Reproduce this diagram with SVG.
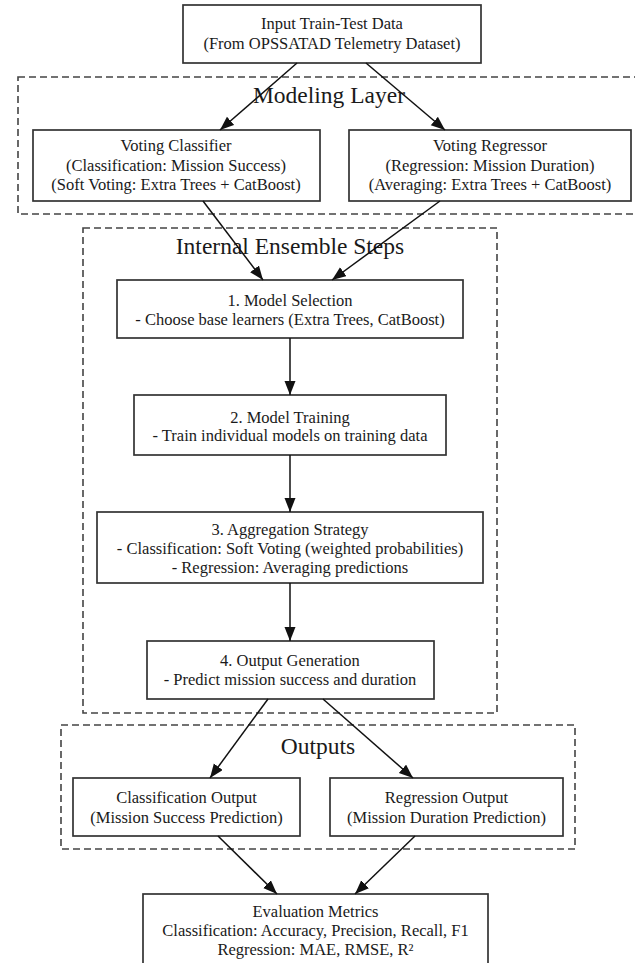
<svg xmlns="http://www.w3.org/2000/svg" width="635" height="963" viewBox="0 0 635 963">
<style>
.box{fill:#fff;stroke:#333;stroke-width:1.7}
.cl{fill:none;stroke:#444;stroke-width:1.6;stroke-dasharray:7,4}
.t{font-family:"Liberation Serif","Times New Roman",serif;font-size:16.5px;fill:#1a1a1a;text-anchor:middle}
.ct{font-family:"Liberation Serif","Times New Roman",serif;font-size:23.5px;fill:#1a1a1a;text-anchor:middle}
.e{stroke:#111;stroke-width:1.5;fill:none;marker-end:url(#ah)}
</style>
<defs>
<marker id="ah" markerUnits="userSpaceOnUse" markerWidth="15" markerHeight="12" refX="14" refY="5.5" orient="auto">
<path d="M0,0 L14,5.5 L0,11 Z" fill="#111"/>
</marker>
</defs>
<rect width="635" height="963" fill="#fff"/>
<g id="clusters">
<g id="modeling-layer"><rect class="cl" x="18" y="77" width="624" height="137"/><text class="ct" x="329" y="103">Modeling Layer</text></g>
<g id="internal-steps"><rect class="cl" x="83" y="228" width="414" height="485"/><text class="ct" x="290" y="254">Internal Ensemble Steps</text></g>
<g id="outputs"><rect class="cl" x="61" y="725" width="514" height="124"/><text class="ct" x="318" y="754">Outputs</text></g>
</g>
<g id="input"><rect class="box" x="183" y="5" width="298" height="58"/><text class="t" x="332" y="29">Input Train-Test Data</text><text class="t" x="332" y="49">(From OPSSATAD Telemetry Dataset)</text></g>
<g id="voting-classifier"><rect class="box" x="33" y="130" width="287" height="71"/><text class="t" x="176" y="151">Voting Classifier</text><text class="t" x="176" y="170.5">(Classification: Mission Success)</text><text class="t" x="176" y="190">(Soft Voting: Extra Trees + CatBoost)</text></g>
<g id="voting-regressor"><rect class="box" x="349" y="130" width="282" height="71"/><text class="t" x="490" y="151">Voting Regressor</text><text class="t" x="490" y="170.5">(Regression: Mission Duration)</text><text class="t" x="490" y="190">(Averaging: Extra Trees + CatBoost)</text></g>
<g id="model-selection"><rect class="box" x="117" y="280" width="346" height="58"/><text class="t" x="290" y="306">1. Model Selection</text><text class="t" x="290" y="325">- Choose base learners (Extra Trees, CatBoost)</text></g>
<g id="model-training"><rect class="box" x="134" y="395" width="312" height="60"/><text class="t" x="290" y="423">2. Model Training</text><text class="t" x="290" y="441">- Train individual models on training data</text></g>
<g id="aggregation"><rect class="box" x="97" y="512" width="386" height="71"/><text class="t" x="290" y="535">3. Aggregation Strategy</text><text class="t" x="290" y="554">- Classification: Soft Voting (weighted probabilities)</text><text class="t" x="290" y="573">- Regression: Averaging predictions</text></g>
<g id="output-generation"><rect class="box" x="147" y="641" width="287" height="58"/><text class="t" x="290" y="666">4. Output Generation</text><text class="t" x="290" y="685">- Predict mission success and duration</text></g>
<g id="classification-output"><rect class="box" x="73" y="778" width="227" height="58"/><text class="t" x="186.5" y="803">Classification Output</text><text class="t" x="186.5" y="823">(Mission Success Prediction)</text></g>
<g id="regression-output"><rect class="box" x="330" y="778" width="233" height="58"/><text class="t" x="446.5" y="803">Regression Output</text><text class="t" x="446.5" y="823">(Mission Duration Prediction)</text></g>
<g id="evaluation"><rect class="box" x="143" y="894" width="345" height="74"/><text class="t" x="315.5" y="917">Evaluation Metrics</text><text class="t" x="315.5" y="936">Classification: Accuracy, Precision, Recall, F1</text><text class="t" x="315.5" y="955">Regression: MAE, RMSE, R²</text></g>
<g id="connectors">
<line class="e" x1="297" y1="63" x2="220" y2="130"/>
<line class="e" x1="366" y1="63" x2="445" y2="130"/>
<line class="e" x1="203" y1="201" x2="263" y2="280"/>
<line class="e" x1="440" y1="201" x2="332" y2="280"/>
<line class="e" x1="290" y1="338" x2="290" y2="395"/>
<line class="e" x1="290" y1="455" x2="290" y2="512"/>
<line class="e" x1="290" y1="583" x2="290" y2="641"/>
<line class="e" x1="268" y1="699" x2="210" y2="778"/>
<line class="e" x1="323" y1="699" x2="413" y2="778"/>
<line class="e" x1="218" y1="836" x2="277" y2="894"/>
<line class="e" x1="415" y1="836" x2="355" y2="894"/>
</g>
</svg>
